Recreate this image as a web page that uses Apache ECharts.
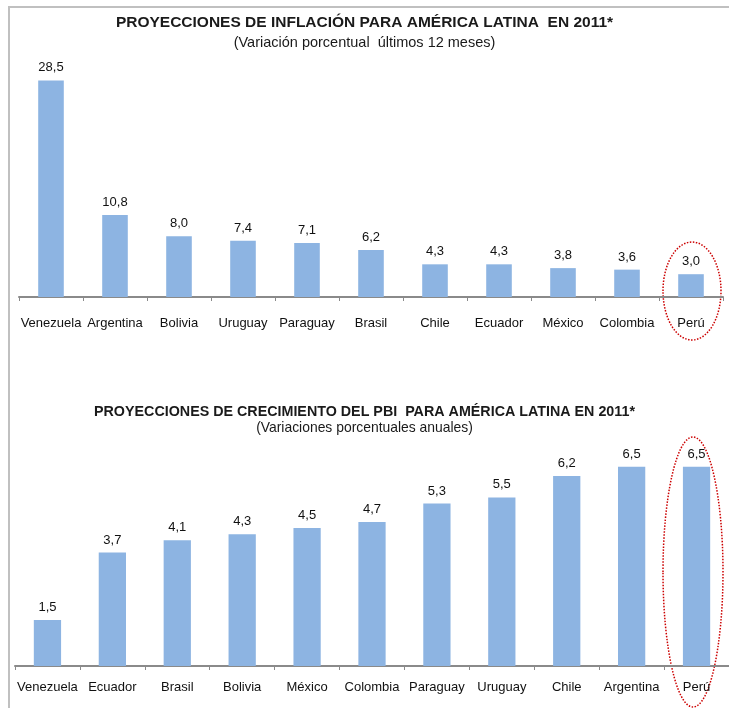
<!DOCTYPE html>
<html><head><meta charset="utf-8">
<script src="https://cdn.jsdelivr.net/npm/echarts@6/dist/echarts.min.js"></script>
<style>html,body{margin:0;padding:0;background:#fff}#c{width:729px;height:708px}</style>
</head><body><div id="c"></div>
<script>
const inflCategories = ['Venezuela','Argentina','Bolivia','Uruguay','Paraguay','Brasil','Chile','Ecuador','México','Colombia','Perú'];
const inflValues = [28.5,10.8,8.0,7.4,7.1,6.2,4.3,4.3,3.8,3.6,3.0];
const pbiCategories = ['Venezuela','Ecuador','Brasil','Bolivia','México','Colombia','Paraguay','Uruguay','Chile','Argentina','Perú'];
const pbiValues = [1.5,3.7,4.1,4.3,4.5,4.7,5.3,5.5,6.2,6.5,6.5];

const font = 'Liberation Sans, Arial, sans-serif';
const barColor = '#8DB4E2';
const fmt = p => p.value.toFixed(1).replace('.', ',');

const chart = echarts.init(document.getElementById('c'), null, {renderer:'canvas'});
chart.setOption({
  animation:false,
  title:[
    {text:'PROYECCIONES DE INFLACIÓN PARA AMÉRICA LATINA  EN 2011*', subtext:'(Variación porcentual  últimos 12 meses)',
     left:'center', top:10, itemGap:4,
     textStyle:{fontFamily:font,fontSize:15.5,fontWeight:'bold',color:'#1a1a1a'},
     subtextStyle:{fontFamily:font,fontSize:14.5,color:'#1a1a1a'}},
    {text:'PROYECCIONES DE CRECIMIENTO DEL PBI  PARA AMÉRICA LATINA EN 2011*', subtext:'(Variaciones porcentuales anuales)',
     left:'center', top:400, itemGap:2,
     textStyle:{fontFamily:font,fontSize:14.3,fontWeight:'bold',color:'#1a1a1a'},
     subtextStyle:{fontFamily:font,fontSize:13.9,color:'#1a1a1a'}}
  ],
  grid:[
    {left:19, width:704, top:69, height:228},
    {left:15, width:714, top:451.4, height:214.6}
  ],
  xAxis:[
    {type:'category', gridIndex:0, data:inflCategories,
     axisLine:{lineStyle:{color:'#8a8a8a',width:2}},
     axisTick:{show:true,length:4,lineStyle:{color:'#8a8a8a'}},
     axisLabel:{margin:19.5,fontFamily:font,fontSize:13,color:'#111',interval:0}},
    {type:'category', gridIndex:1, data:pbiCategories,
     axisLine:{lineStyle:{color:'#8a8a8a',width:2}},
     axisTick:{show:true,length:4,lineStyle:{color:'#8a8a8a'}},
     axisLabel:{margin:14.5,fontFamily:font,fontSize:13,color:'#111',interval:0}}
  ],
  yAxis:[
    {type:'value', gridIndex:0, min:0, max:30, show:false, splitLine:{show:false}},
    {type:'value', gridIndex:1, min:0, max:7, show:false, splitLine:{show:false}}
  ],
  series:[
    {type:'bar', xAxisIndex:0, yAxisIndex:0, data:inflValues, barWidth:'40%',
     itemStyle:{color:barColor},
     label:{show:true,position:'top',distance:6,formatter:fmt,fontFamily:font,fontSize:13,color:'#111'}},
    {type:'bar', xAxisIndex:1, yAxisIndex:1, data:pbiValues, barWidth:'42%',
     itemStyle:{color:barColor},
     label:{show:true,position:'top',distance:6,formatter:fmt,fontFamily:font,fontSize:13,color:'#111'}}
  ],
  graphic:[
    {type:'line', shape:{x1:8,y1:7,x2:729,y2:7}, style:{stroke:'#c0c0c0',lineWidth:2}},
    {type:'line', shape:{x1:9,y1:6,x2:9,y2:708}, style:{stroke:'#c0c0c0',lineWidth:2}},
    {type:'ellipse', shape:{cx:692,cy:291,rx:29,ry:49}, style:{fill:'none',stroke:'#cc0000',lineWidth:1.5,lineDash:[1.5,1.5]}},
    {type:'ellipse', shape:{cx:693,cy:572,rx:30,ry:135}, style:{fill:'none',stroke:'#cc0000',lineWidth:1.5,lineDash:[1.5,1.5]}}
  ]
});
</script></body></html>
